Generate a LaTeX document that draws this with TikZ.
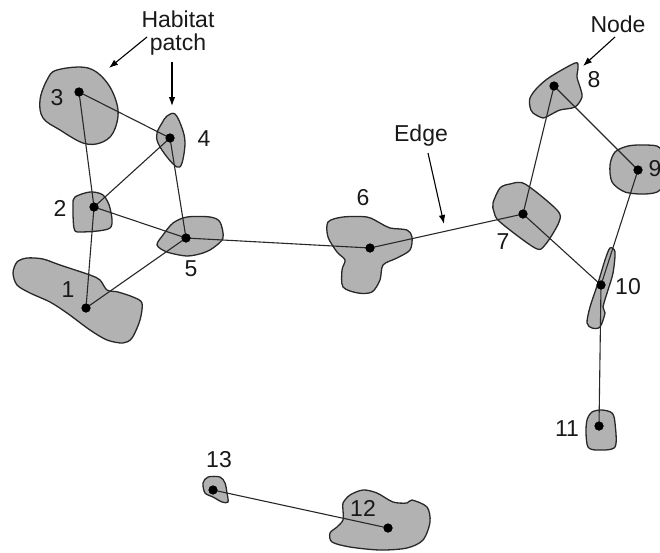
\documentclass[tikz,border=0pt]{standalone}
\usepackage{fontspec}
\setmainfont{Liberation Sans}
\usetikzlibrary{arrows.meta}
\definecolor{patchgray}{RGB}{178,178,178}
\definecolor{inkline}{RGB}{40,40,40}
\begin{document}
\begin{tikzpicture}[x=1pt,y=-1pt,
 patch/.style={fill=patchgray, draw=inkline, line width=1.3pt, line join=round},
 edge/.style={draw=inkline, line width=1.1pt},
 dot/.style={circle, fill=black, inner sep=0pt, minimum size=9pt},
 lbl/.style={font=\fontsize{23}{25}\selectfont, inner sep=0pt, text=black!90},
 pointer/.style={draw=black, line width=1.1pt, -{Latex[length=9pt,width=6.5pt]}}]
\useasboundingbox (0,0) rectangle (660,552);
\clip (0,0) rectangle (660,552);
% patches
\draw[patch] plot[smooth cycle, tension=0.6] coordinates {(57,70) (88,68) (108,84) (118,110) (113,133) (100,143) (83,143) (60,130) (43,118) (40,100) (47,80)};
\draw[patch] plot[smooth cycle, tension=0.6] coordinates {(167,116) (175,114) (182,128) (185,143) (182,163) (177,167) (167,157) (158,143) (157,133) (162,123)};
\draw[patch] plot[smooth cycle, tension=0.5] coordinates {(75,197) (90,192) (103,195) (110,208) (110,228) (80,232) (74,228) (73,205)};
\draw[patch] plot[smooth cycle, tension=0.5] coordinates {(157,245) (163,235) (173,223) (187,217) (210,217) (220,222) (223,238) (213,248) (203,253) (187,256) (167,252)};
\draw[patch] plot[smooth cycle, tension=0.5] coordinates {(13,273) (17,262) (27,258) (43,259) (60,265) (90,275) (100,280) (107,290) (118,292) (133,297) (142,303) (140,320) (132,338) (123,343) (107,340) (90,330) (67,313) (50,302) (30,293) (17,285)};
\draw[patch] plot[smooth cycle, tension=0.5] coordinates {(328,222) (343,217) (367,217) (380,223) (390,228) (407,230) (412,237) (410,250) (397,258) (383,265) (380,280) (372,292) (358,293) (343,287) (342,270) (345,260) (337,252) (328,237)};
\draw[patch] plot[smooth cycle, tension=0.5] coordinates {(493,203) (500,188) (510,184) (525,184) (557,210) (559,222) (545,245) (535,248) (500,222) (494,212)};
\draw[patch] plot[smooth cycle, tension=0.5] coordinates {(530,98) (537,88) (550,77) (575,63) (578,67) (577,77) (580,87) (582,97) (575,107) (560,110) (550,115) (543,118) (533,113) (530,107)};
\draw[patch] plot[smooth cycle, tension=0.5] coordinates {(610,165) (615,152) (628,146) (645,145) (660,148) (664,170) (660,190) (645,194) (625,192) (612,182)};
\draw[patch] plot[smooth cycle, tension=0.5] coordinates {(610,248) (615,252) (613,273) (608,290) (603,307) (605,313) (600,327) (592,328) (587,323) (590,307) (598,283) (605,260)};
\draw[patch] plot[smooth cycle, tension=0.5] coordinates {(587,420) (592,412) (602,410) (612,413) (615,423) (615,447) (597,450) (588,447) (586,433)};
\draw[patch] plot[smooth cycle, tension=0.5] coordinates {(203,483) (208,477) (220,477) (225,483) (227,493) (228,502) (222,502) (213,497) (205,493)};
\draw[patch] plot[smooth cycle, tension=0.5] coordinates {(343,503) (350,495) (363,490) (377,493) (393,502) (407,503) (412,500) (427,507) (430,522) (423,540) (407,548) (380,550) (350,547) (332,542) (330,533) (337,527) (343,520) (343,510)};
% nodes
\node[dot] (n1) at (86,308) {};
\node[dot] (n2) at (94,207) {};
\node[dot] (n3) at (79,92) {};
\node[dot] (n4) at (170,138) {};
\node[dot] (n5) at (186,238) {};
\node[dot] (n6) at (370,248) {};
\node[dot] (n7) at (523,214) {};
\node[dot] (n8) at (554,86) {};
\node[dot] (n9) at (638,170) {};
\node[dot] (n10) at (601,285) {};
\node[dot] (n11) at (599,426) {};
\node[dot] (n12) at (388,528) {};
\node[dot] (n13) at (213,490) {};
% edges
\draw[edge] (n3.center) -- (n4.center);
\draw[edge] (n3.center) -- (n2.center);
\draw[edge] (n4.center) -- (n2.center);
\draw[edge] (n4.center) -- (n5.center);
\draw[edge] (n2.center) -- (n5.center);
\draw[edge] (n2.center) -- (n1.center);
\draw[edge] (n1.center) -- (n5.center);
\draw[edge] (n5.center) -- (n6.center);
\draw[edge] (n6.center) -- (n7.center);
\draw[edge] (n7.center) -- (n8.center);
\draw[edge] (n8.center) -- (n9.center);
\draw[edge] (n9.center) -- (n10.center);
\draw[edge] (n7.center) -- (n10.center);
\draw[edge] (n10.center) -- (n11.center);
\draw[edge] (n13.center) -- (n12.center);
% redraw dots on top
\foreach \n in {n1,n2,n3,n4,n5,n6,n7,n8,n9,n10,n11,n12,n13} \fill[black] (\n) circle (4.5pt);
% number labels
\node[lbl] (l1) at (68,290) {1};
\node[lbl] (l2) at (60,208) {2};
\node[lbl] (l3) at (57,98) {3};
\node[lbl] (l4) at (204,139) {4};
\node[lbl] (l5) at (191,269) {5};
\node[lbl] (l6) at (363,198) {6};
\node[lbl] (l7) at (503,242) {7};
\node[lbl] (l8) at (594,80) {8};
\node[lbl] (l9) at (655,169) {9};
\node[lbl] (l10) at (628,287) {10};
\node[lbl] (l11) at (567,429) {11};
\node[lbl] (l12) at (363,508) {12};
\node[lbl] (l13) at (219,460) {13};
% annotation labels
\node[lbl, align=center, font=\fontsize{23}{23}\selectfont] (hab) at (178,33) {Habitat\\patch};
\node[lbl] (nodelbl) at (618,24) {Node};
\node[lbl] (edgelbl) at (421,136) {Edge};
\coordinate (ha1) at (147,37);
\coordinate (ha1e) at (109,68);
\coordinate (ha2) at (172,62);
\coordinate (ha2e) at (172,106);
\coordinate (na) at (615,37);
\coordinate (nae) at (583,66);
\coordinate (ea) at (428,153);
\coordinate (eae) at (444,224);
\draw[pointer] (ha1) -- (ha1e);
\draw[pointer] (ha2) -- (ha2e);
\draw[pointer] (na) -- (nae);
\draw[pointer] (ea) -- (eae);
\end{tikzpicture}
\end{document}
